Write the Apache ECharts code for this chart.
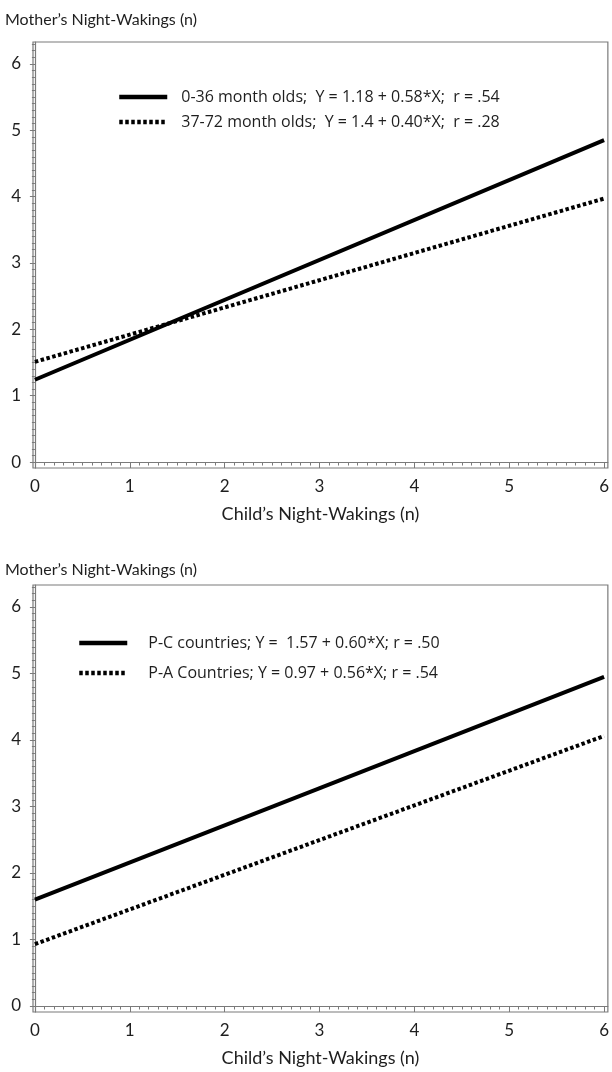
<!DOCTYPE html>
<html>
<head>
<meta charset="utf-8">
<script src="https://cdn.jsdelivr.net/npm/echarts@6/dist/echarts.min.js"></script>
<style>
html,body{margin:0;padding:0;background:#fff;}
#chart{width:612px;height:1072px;}
</style>
</head>
<body>
<div id="chart"></div>
<script>
// ---- data ----
const xEnds = [0, 6];
const topSolidName = '0-36 month olds;  Y = 1.18 + 0.58*X;  r = .54';
const topDottedName = '37-72 month olds;  Y = 1.4 + 0.40*X;  r = .28';
const topSolid = [1.24, 4.85];
const topDotted = [1.51, 3.97];
const botSolidName = 'P-C countries; Y =  1.57 + 0.60*X; r = .50';
const botDottedName = 'P-A Countries; Y = 0.97 + 0.56*X; r = .54';
const botSolid = [1.6, 4.95];
const botDotted = [0.93, 4.06];
const xTickLabels = [0, 1, 2, 3, 4, 5, 6];
const yTickLabels = [0, 1, 2, 3, 4, 5, 6];
const yTitle = 'Mother\u2019s Night-Wakings (n)';
const xTitle = 'Child\u2019s Night-Wakings (n)';

// ---- helpers ----
const FONT = 'Lato';
const LFONT = 'Open Sans';
const TXT = '#1e1e1e';
const AX = '#7a7a7a';
const xMinor = []; for (let i = 0; i <= 60; i++) xMinor.push(+(i / 10).toFixed(1));
const yMinor = []; for (let i = 0; i <= 63; i++) yMinor.push(+(i / 10).toFixed(1));

function pairs(xs, ys) { return xs.map((x, i) => [x, ys[i]]); }

function xAxes(gi) {
  const base = { type: 'value', gridIndex: gi, min: -0.02, max: 6.04, position: 'bottom', splitLine: { show: false } };
  return [
    Object.assign({}, base, {
      name: xTitle, nameLocation: 'middle', nameGap: 37,
      nameTextStyle: { fontFamily: FONT, fontSize: 18, color: TXT },
      axisLine: { show: true, lineStyle: { color: AX, width: 1.2 } },
      axisTick: { show: true, length: 6, customValues: xTickLabels, lineStyle: { color: AX } },
      axisLabel: { customValues: xTickLabels, fontFamily: FONT, fontSize: 17, color: TXT, margin: 10 }
    }),
    Object.assign({}, base, {
      axisLine: { show: false },
      axisTick: { show: true, length: 3.5, customValues: xMinor, lineStyle: { color: AX } },
      axisLabel: { show: false }
    })
  ];
}
function yAxes(gi) {
  const base = { type: 'value', gridIndex: gi, min: -0.09, max: 6.33, position: 'left', splitLine: { show: false } };
  return [
    Object.assign({}, base, {
      axisLine: { show: true, lineStyle: { color: AX, width: 1.2 } },
      axisTick: { show: true, length: 5, customValues: yTickLabels, lineStyle: { color: AX } },
      axisLabel: { customValues: yTickLabels, fontFamily: FONT, fontSize: 17, color: TXT, margin: 12 }
    }),
    Object.assign({}, base, {
      axisLine: { show: false },
      axisTick: { show: true, length: 3, customValues: yMinor, lineStyle: { color: AX } },
      axisLabel: { show: false }
    })
  ];
}
function lineSeries(name, gi, ys, dotted) {
  return {
    type: 'line', name: name, xAxisIndex: gi * 2, yAxisIndex: gi * 2,
    data: pairs(xEnds, ys), symbol: 'none', silent: true, animation: false,
    lineStyle: { color: '#000', width: 4, type: dotted ? [3.5, 2.5] : 'solid', cap: 'butt' }
  };
}
function legend(names, left, top, gap, pad) {
  return {
    data: names, orient: 'vertical', left: left, top: top, itemWidth: 48, itemHeight: 4, itemGap: gap,
    selectedMode: false, itemStyle: { opacity: 0 },
    lineStyle: { width: 4.5, cap: 'butt' },
    textStyle: { fontFamily: LFONT, fontSize: 16, color: TXT, padding: [0, 0, 0, pad] }
  };
}

const option = {
  animation: false,
  backgroundColor: '#fff',
  title: [
    { text: yTitle, left: 0, top: 7, textStyle: { fontFamily: FONT, fontSize: 16, fontWeight: 'normal', color: TXT } },
    { text: yTitle, left: 0, top: 557, textStyle: { fontFamily: FONT, fontSize: 16, fontWeight: 'normal', color: TXT } }
  ],
  grid: [
    { left: 33, top: 42, right: 1, height: 426, show: true, borderColor: AX, borderWidth: 1.2 },
    { left: 33, top: 585, right: 1, height: 427, show: true, borderColor: AX, borderWidth: 1.2 }
  ],
  xAxis: [].concat(xAxes(0), xAxes(1)),
  yAxis: [].concat(yAxes(0), yAxes(1)),
  legend: [
    legend([topSolidName, topDottedName], 112, 84, 9, 9),
    legend([botSolidName, botDottedName], 72, 630, 14, 16)
  ],
  series: [
    lineSeries(topSolidName, 0, topSolid, false),
    lineSeries(topDottedName, 0, topDotted, true),
    lineSeries(botSolidName, 1, botSolid, false),
    lineSeries(botDottedName, 1, botDotted, true)
  ]
};
const chart = echarts.init(document.getElementById('chart'), null, { renderer: 'canvas' });
chart.setOption(option);
</script>
</body>
</html>
